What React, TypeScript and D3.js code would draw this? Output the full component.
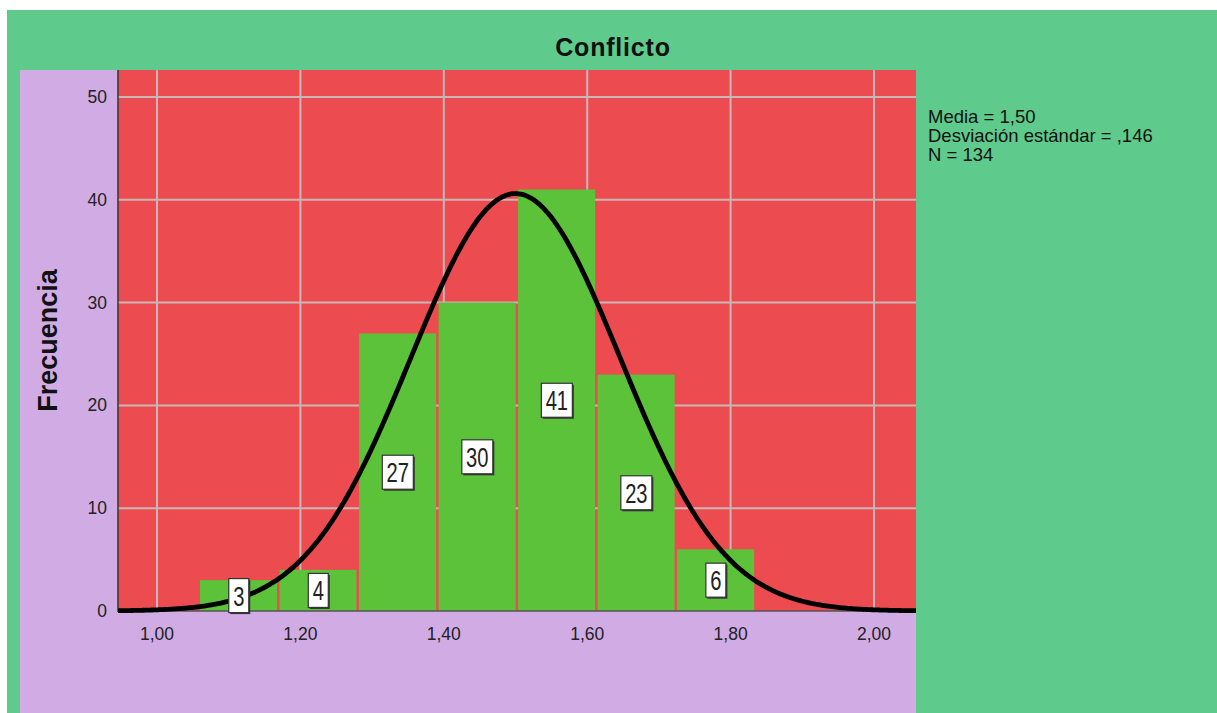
import React from "react";
import * as d3 from "d3";

const title = "Conflicto";
const yLabel = "Frecuencia";
const binEdges = [1.0586, 1.1695, 1.2804, 1.3913, 1.5022, 1.6131, 1.724, 1.8349];
const counts = [3, 4, 27, 30, 41, 23, 6];
const xTicks = [1.0, 1.2, 1.4, 1.6, 1.8, 2.0];
const xTickLabels = ["1,00", "1,20", "1,40", "1,60", "1,80", "2,00"];
const yTicks = [0, 10, 20, 30, 40, 50];
const stats = ["Media = 1,50", "Desviación estándar = ,146", "N = 134"];
const mean = 1.5;
const sd = 0.146;
const nTotal = 134;

const W = 1217;
const H = 713;
const plot = { left: 118, right: 916, top: 70, bottom: 611 };

export default function App() {
  const x = d3.scaleLinear().domain([1.0, 2.0]).range([157, 874]);
  const y = d3.scaleLinear().domain([0, 50]).range([plot.bottom, 97]);
  const xMin = x.invert(plot.left);
  const xMax = x.invert(plot.right);
  const bw = (binEdges[binEdges.length - 1] - binEdges[0]) / counts.length;
  const pts: [number, number][] = d3.range(0, 401).map((i) => {
    const v = xMin + ((xMax - xMin) * i) / 400;
    const dens = Math.exp(-0.5 * ((v - mean) / sd) ** 2) / (sd * Math.sqrt(2 * Math.PI));
    return [v, dens * nTotal * bw];
  });
  const line = d3
    .line<[number, number]>()
    .x((d) => x(d[0]))
    .y((d) => y(d[1]))
    .curve(d3.curveBasis);

  const labelScale = 0.72;
  return (
    <svg
      width={W}
      height={H}
      style={{ position: "absolute", left: 0, top: 0, fontFamily: "Liberation Sans, Arial, sans-serif" }}
    >
      <rect x={0} y={0} width={W} height={H} fill="#ffffff" />
      <rect x={7} y={10} width={W - 7} height={H - 10} fill="#5ECA8B" />
      <rect x={20} y={plot.top} width={plot.right - 20} height={H - plot.top} fill="#D0ABE4" />
      <rect
        x={plot.left}
        y={plot.top}
        width={plot.right - plot.left}
        height={plot.bottom - plot.top}
        fill="#EC4C4F"
      />
      {/* grid */}
      {xTicks.map((t) => (
        <line key={"gx" + t} x1={x(t)} x2={x(t)} y1={plot.top} y2={plot.bottom} stroke="#C9B6B6" strokeWidth={2} />
      ))}
      {yTicks.slice(1).map((t) => (
        <line key={"gy" + t} x1={plot.left} x2={plot.right} y1={y(t)} y2={y(t)} stroke="#C9B6B6" strokeWidth={2} />
      ))}
      {/* bars */}
      {counts.map((c, i) => (
        <rect
          key={"b" + i}
          x={x(binEdges[i]) + 1}
          y={y(c)}
          width={x(binEdges[i + 1]) - x(binEdges[i]) - 2.5}
          height={y(0) - y(c)}
          fill="#5CC23A"
        />
      ))}
      {/* axes */}
      <line x1={plot.left} x2={plot.left} y1={plot.top} y2={plot.bottom + 1} stroke="#333" strokeWidth={1.5} />
      <line x1={plot.left} x2={plot.right} y1={plot.bottom} y2={plot.bottom} stroke="#555" strokeWidth={1.5} />
      {/* curve */}
      <path d={line(pts) || ""} fill="none" stroke="#000" strokeWidth={4.8} strokeLinejoin="round" />
      {/* bar labels */}
      {counts.map((c, i) => {
        const cx = (x(binEdges[i]) + x(binEdges[i + 1])) / 2;
        const cy = y(c / 2);
        const txt = String(c);
        const bwid = txt.length === 1 ? 20 : 31;
        const bh = 34;
        return (
          <g key={"l" + i}>
            <rect x={cx - bwid / 2 + 1.5} y={cy - bh / 2 + 1.5} width={bwid} height={bh} fill="#333" />
            <rect x={cx - bwid / 2} y={cy - bh / 2} width={bwid} height={bh} fill="#fff" stroke="#333" strokeWidth={1.2} />
            <text
              transform={`translate(${cx},${cy + 10}) scale(${labelScale},1)`}
              textAnchor="middle"
              fontSize={28}
              fill="#222"
            >
              {txt}
            </text>
          </g>
        );
      })}
      {/* tick labels */}
      {yTicks.map((t) => (
        <text key={"yt" + t} x={107} y={y(t) + 6} textAnchor="end" fontSize={17.5} fill="#222">
          {t}
        </text>
      ))}
      {xTicks.map((t, i) => (
        <text key={"xt" + t} x={x(t)} y={640} textAnchor="middle" fontSize={17.5} fill="#222">
          {xTickLabels[i]}
        </text>
      ))}
      {/* titles */}
      <text x={613} y={56} textAnchor="middle" fontSize={25} fontWeight="bold" letterSpacing={0.8} fill="#111">
        {title}
      </text>
      <text
        transform={`translate(57,${(plot.top + plot.bottom) / 2}) rotate(-90)`}
        textAnchor="middle"
        fontSize={27}
        fontWeight="bold"
        fill="#111"
      >
        {yLabel}
      </text>
      {/* stats */}
      {stats.map((s, i) => (
        <text key={"s" + i} x={928} y={123 + i * 19.2} fontSize={18.5} fill="#111">
          {s}
        </text>
      ))}
    </svg>
  );
}
